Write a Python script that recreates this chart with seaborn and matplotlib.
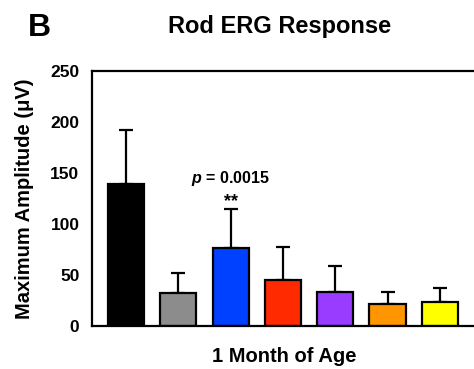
import matplotlib
matplotlib.use("Agg")
import matplotlib.pyplot as plt
import seaborn as sns
import pandas as pd
import numpy as np

# Rod ERG maximum amplitude at 1 month of age, per group
groups = ["G1", "G2", "G3", "G4", "G5", "G6", "G7"]
means = [139, 32, 76, 45, 33, 22, 24]
sd_upper = [53, 20, 39, 32, 26, 11, 13]
colors = ["#000000", "#8c8c8c", "#0040ff", "#ff2a00", "#9a3cff", "#ff9500", "#ffff00"]
y_ticks = [0, 50, 100, 150, 200, 250]
p_text = "$\\mathit{p}$ = 0.0015"
sig_group = "G3"

sns.set_theme(style="white")
plt.rcParams["font.family"] = ["Liberation Sans", "DejaVu Sans"]
plt.rcParams["font.weight"] = "bold"
plt.rcParams["text.color"] = "black"
plt.rcParams["axes.labelcolor"] = "black"
plt.rcParams["xtick.color"] = "black"
plt.rcParams["ytick.color"] = "black"
plt.rcParams["mathtext.fontset"] = "custom"
plt.rcParams["mathtext.it"] = "Liberation Sans:italic:bold"
plt.rcParams["mathtext.rm"] = "Liberation Sans:bold"

df = pd.DataFrame({"group": groups, "amp": means})

fig = plt.figure(figsize=(4.74, 3.69), dpi=100)
ax = fig.add_axes([0.194, 0.1165, 0.806, 0.691])

sns.barplot(data=df, x="group", y="amp", hue="group", palette=colors,
            order=groups, width=0.69, edgecolor="black", linewidth=1.6,
            saturation=1, legend=False, ax=ax, errorbar=None)

x = np.arange(len(groups))
ax.errorbar(x, means, yerr=[np.zeros(len(means)), sd_upper], fmt="none",
            ecolor="black", elinewidth=1.6, capsize=5, capthick=1.6, zorder=1)
for p in ax.patches:
    p.set_zorder(2)

ax.set_xlim(-0.655, 6.655)
ax.set_ylim(0, 250)
ax.set_yticks(y_ticks)
ax.set_yticklabels([str(t) for t in y_ticks], fontsize=12.5, fontweight="bold")
ax.set_xticks(x)
ax.set_xticklabels([""] * len(groups))
ax.tick_params(axis="x", direction="out", length=4, width=1.4, pad=2)
ax.tick_params(axis="y", direction="in", length=3, width=1.4, pad=9)

for side in ["left", "bottom", "top"]:
    ax.spines[side].set_visible(True)
    ax.spines[side].set_color("black")
    ax.spines[side].set_linewidth(1.6)
ax.spines["right"].set_visible(False)

ax.set_xlabel("1 Month of Age", fontsize=14.5, fontweight="bold")
ax.set_ylabel("Maximum Amplitude (μV)", fontsize=14.5, fontweight="bold")
ax.xaxis.set_label_coords(0.503, -0.082)
ax.yaxis.set_label_coords(-0.152, 0.5)

sig_i = groups.index(sig_group)
top = means[sig_i] + sd_upper[sig_i]
ax.text(sig_i, top + 2.5, "**", ha="center", va="baseline", fontsize=13, fontweight="bold")
ax.text(sig_i, top + 30, p_text, ha="center", va="center", fontsize=11.5, fontweight="bold")

fig.text(0.59, 0.927, "Rod ERG Response", ha="center", va="center",
         fontsize=17, fontweight="bold")
fig.text(0.058, 0.925, "B", ha="left", va="center", fontsize=23, fontweight="bold")

fig.savefig("out.png", dpi=100)
